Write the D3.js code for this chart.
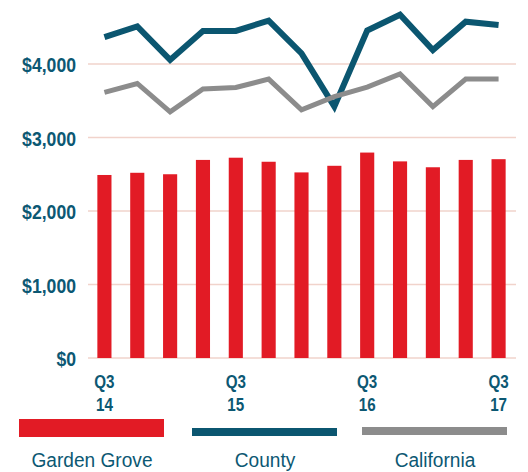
<!DOCTYPE html>
<head>
  <meta charset="utf-8">
  <script src="https://d3js.org/d3.v7.min.js"></script>
  <style>
    body { margin:0; padding:0; background:#fff; }
    text { font-family: "Liberation Sans", Arial, sans-serif; }
  </style>
</head>

<body>
  <script>
    var width = 528, height = 472;

    // data
    var quarters = ["Q3 14", "Q4 14", "Q1 15", "Q2 15", "Q3 15", "Q4 15", "Q1 16",
                    "Q2 16", "Q3 16", "Q4 16", "Q1 17", "Q2 17", "Q3 17"];
    var gardenGrove = [2490, 2520, 2500, 2695, 2725, 2670, 2525, 2615, 2795, 2675, 2595, 2695, 2705];
    var county      = [4365, 4510, 4055, 4450, 4450, 4590, 4145, 3420, 4455, 4670, 4190, 4575, 4530];
    var california  = [3615, 3735, 3350, 3660, 3680, 3795, 3375, 3555, 3685, 3865, 3420, 3795, 3795];
    var yTicks = [0, 1000, 2000, 3000, 4000];
    var xLabelAt = ["Q3 14", "Q3 15", "Q3 16", "Q3 17"];
    var legendNames = ["Garden Grove", "County", "California"];

    var red = "#e21b25", teal = "#0b5670", grey = "#8c8c8c", textCol = "#0c5873";

    var svg = d3.select("body").append("svg")
      .attr("width", width)
      .attr("height", height);

    var x = d3.scaleBand().domain(quarters).range([88, 515]).paddingInner(0.57).paddingOuter(0.285);
    var y = d3.scaleLinear().domain([0, 4000]).range([358, 64]);
    var cx = function(q) { return x(q) + x.bandwidth() / 2; };

    // gridlines
    svg.append("g").selectAll("line")
      .data(yTicks)
      .enter().append("line")
      .attr("x1", 88).attr("x2", 516)
      .attr("y1", function(d) { return y(d); })
      .attr("y2", function(d) { return y(d); })
      .style("stroke", "#f1d3cb")
      .style("stroke-width", 1.5);

    // y labels (squeezed, the original font is condensed)
    svg.append("g").selectAll("text")
      .data(yTicks)
      .enter().append("text")
      .attr("transform", function(d) { return "translate(76," + (y(d) + 8) + ") scale(0.84,1)"; })
      .attr("text-anchor", "end")
      .style("font-size", "21px")
      .style("font-weight", "bold")
      .style("fill", textCol)
      .text(function(d) { return "$" + d3.format(",")(d); });

    // bars
    svg.append("g").selectAll("rect")
      .data(gardenGrove)
      .enter().append("rect")
      .attr("x", function(d, i) { return x(quarters[i]); })
      .attr("width", x.bandwidth())
      .attr("y", function(d) { return y(d); })
      .attr("height", function(d) { return y(0) - y(d); })
      .style("fill", red);

    var line = d3.line()
      .x(function(d, i) { return cx(quarters[i]); })
      .y(function(d) { return y(d); });

    svg.append("path")
      .datum(county)
      .attr("d", line)
      .style("fill", "none")
      .style("stroke", teal)
      .style("stroke-width", 6);

    svg.append("path")
      .datum(california)
      .attr("d", line)
      .style("fill", "none")
      .style("stroke", grey)
      .style("stroke-width", 5);

    // x labels, two lines each
    var xl = svg.append("g").selectAll("g")
      .data(xLabelAt)
      .enter().append("g")
      .attr("transform", function(d) { return "translate(" + cx(d) + ",0)"; });
    xl.append("text")
      .attr("transform", "translate(0,388) scale(0.8,1)")
      .attr("text-anchor", "middle")
      .style("font-size", "19px")
      .style("font-weight", "bold")
      .style("fill", textCol)
      .text(function(d) { return d.split(" ")[0]; });
    xl.append("text")
      .attr("transform", "translate(0,411) scale(0.8,1)")
      .attr("text-anchor", "middle")
      .style("font-size", "19px")
      .style("font-weight", "bold")
      .style("fill", textCol)
      .text(function(d) { return d.split(" ")[1]; });

    // legend
    var legendX = [19, 192, 362];
    var legendY = [419, 428, 427];
    var legendH = [18, 8, 8];
    var legendCol = [red, teal, grey];
    var lg = svg.append("g").selectAll("g")
      .data(legendNames)
      .enter().append("g");
    lg.append("rect")
      .attr("x", function(d, i) { return legendX[i]; })
      .attr("y", function(d, i) { return legendY[i]; })
      .attr("width", 145)
      .attr("height", function(d, i) { return legendH[i]; })
      .style("fill", function(d, i) { return legendCol[i]; });
    lg.append("text")
      .attr("transform", function(d, i) { return "translate(" + (legendX[i] + 73) + ",467) scale(0.91,1)"; })
      .attr("text-anchor", "middle")
      .style("font-size", "21px")
      .style("fill", textCol)
      .text(function(d) { return d; });
  </script>
</body>
